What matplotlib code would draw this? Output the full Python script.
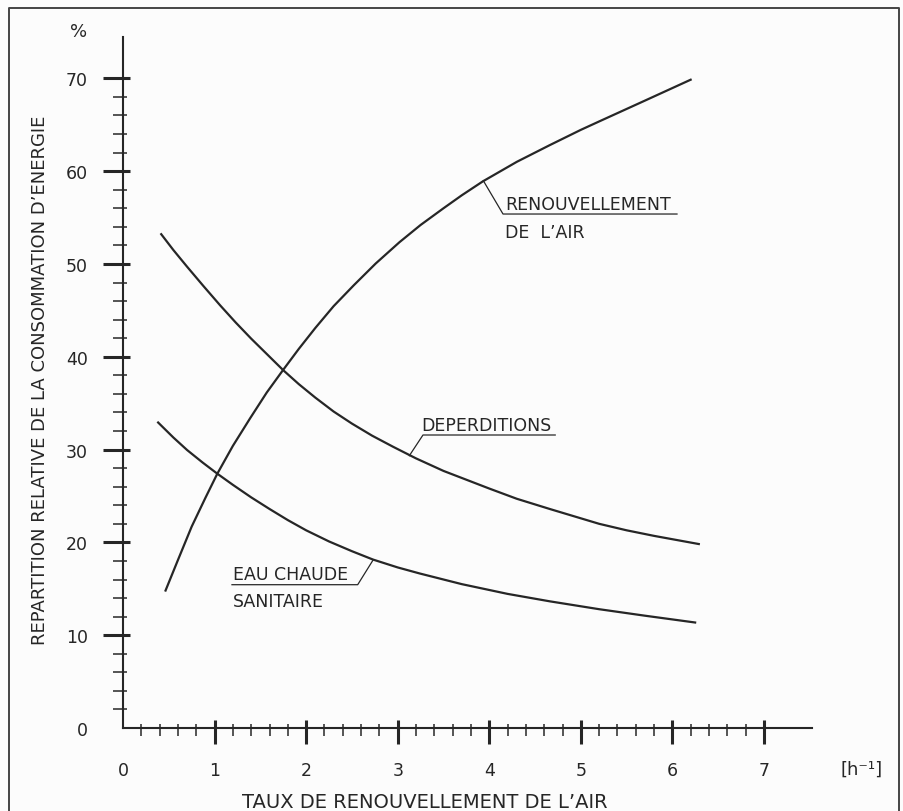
import matplotlib
matplotlib.use('Agg')
import matplotlib.pyplot as plt
from matplotlib.ticker import FixedLocator, NullFormatter
from matplotlib.lines import Line2D

# ---------------- data ----------------
renouv_x = [0.46, 0.60, 0.75, 0.90, 1.03, 1.20, 1.39, 1.57, 1.75, 1.92, 2.10, 2.30, 2.52,
            2.76, 3.02, 3.25, 3.50, 3.70, 3.93, 4.30, 4.66, 5.00, 5.21, 5.70, 6.21]
renouv_y = [14.7, 18.1, 21.7, 24.8, 27.4, 30.4, 33.4, 36.15, 38.6, 40.85, 43.1, 45.45, 47.7,
            50.05, 52.35, 54.2, 56.0, 57.4, 58.9, 61.0, 62.8, 64.45, 65.4, 67.6, 69.9]

deperd_x = [0.41, 0.55, 0.70, 0.88, 1.06, 1.23, 1.40, 1.57, 1.75, 1.92, 2.10, 2.30, 2.50,
            2.72, 2.95, 3.20, 3.50, 4.00, 4.30, 4.66, 5.20, 5.50, 5.80, 6.30]
deperd_y = [53.3, 51.5, 49.7, 47.6, 45.55, 43.7, 41.95, 40.3, 38.55, 37.05, 35.6, 34.1, 32.8,
            31.5, 30.3, 29.05, 27.7, 25.8, 24.7, 23.6, 22.0, 21.3, 20.7, 19.8]

eau_x = [0.375, 0.55, 0.70, 0.87, 1.03, 1.20, 1.40, 1.60, 1.80, 2.00, 2.25, 2.50, 2.73,
         3.00, 3.24, 3.70, 4.20, 4.66, 5.20, 5.70, 6.26]
eau_y = [33.0, 31.3, 29.95, 28.6, 27.4, 26.2, 24.85, 23.6, 22.4, 21.3, 20.1, 19.05, 18.15,
         17.3, 16.65, 15.5, 14.45, 13.65, 12.8, 12.1, 11.35]

x_major = [0, 1, 2, 3, 4, 5, 6, 7]
x_labels = ['0', '1', '2', '3', '4', '5', '6', '7']
y_major = [0, 10, 20, 30, 40, 50, 60, 70]
y_labels = ['0', '10', '20', '30', '40', '50', '60', '70']

xlabel = "TAUX DE RENOUVELLEMENT DE L\u2019AIR"
ylabel = "REPARTITION RELATIVE DE LA CONSOMMATION D\u2019ENERGIE"

# ---------------- layout ----------------
W, H = 904, 812
INK = '#262626'
BG = '#fcfcfc'
PT = 0.72  # points per pixel at dpi 100

fig = plt.figure(figsize=(W / 100, H / 100), dpi=100)
fig.patch.set_facecolor(BG)

px0, px1 = 123, 812   # x axis from data 0 to end (pixels)
py0, py1 = 729, 38    # y axis from data 0 to top (pixels)
XPX, YPX = 91.57, 9.281
rect = [px0 / W, (H - py0) / H, (px1 - px0) / W, (py0 - py1) / H]
XMAX = (px1 - px0) / XPX
YMAX = (py0 - py1) / YPX

ax = fig.add_axes(rect)
ax2 = fig.add_axes(rect, sharex=ax, sharey=ax)
ax.set_xlim(0, XMAX)
ax.set_ylim(0, YMAX)

x_minor = [round(0.2 * i, 1) for i in range(1, 35) if i % 5 != 0]
y_minor = [2 * i for i in range(1, 35) if i % 5 != 0]

for a in (ax, ax2):
    a.patch.set_visible(False)
    a.spines['top'].set_visible(False)
    a.spines['right'].set_visible(False)

ax.spines['left'].set_linewidth(1.5)
ax.spines['bottom'].set_linewidth(1.5)
ax.spines['left'].set_color(INK)
ax.spines['bottom'].set_color(INK)
ax2.spines['left'].set_visible(False)
ax2.spines['bottom'].set_visible(False)

ax.xaxis.set_major_locator(FixedLocator(x_major))
ax.yaxis.set_major_locator(FixedLocator(y_major))
ax.xaxis.set_minor_locator(FixedLocator(x_minor))
ax.yaxis.set_minor_locator(FixedLocator(y_minor))
ax.set_xticklabels(x_labels)
ax.set_yticklabels(y_labels)
ax.xaxis.set_minor_formatter(NullFormatter())
ax.yaxis.set_minor_formatter(NullFormatter())

# outward part of ticks
ax.tick_params(axis='y', which='major', direction='out', length=20 * PT, width=2.2,
               color=INK, labelsize=12.5, labelcolor=INK, pad=11)
ax.tick_params(axis='y', which='minor', direction='out', length=10 * PT, width=1.1, color=INK)
ax.tick_params(axis='x', which='major', direction='out', length=16 * PT, width=2.2,
               color=INK, labelsize=12.5, labelcolor=INK, pad=12)
ax.tick_params(axis='x', which='minor', direction='out', length=8 * PT, width=1.1, color=INK)
# inward part of ticks
ax2.tick_params(axis='y', which='major', direction='in', length=7 * PT, width=2.2,
                color=INK, labelleft=False)
ax2.tick_params(axis='y', which='minor', direction='in', length=4 * PT, width=1.1, color=INK)
ax2.tick_params(axis='x', which='major', direction='in', length=8 * PT, width=2.2,
                color=INK, labelbottom=False)
ax2.tick_params(axis='x', which='minor', direction='in', length=4 * PT, width=1.1, color=INK)

# no tick marks at the origin corner
for a in (ax, ax2):
    a.xaxis.get_major_ticks(len(x_major))[0].tick1line.set_visible(False)
    a.yaxis.get_major_ticks(len(y_major))[0].tick1line.set_visible(False)

# ---------------- curves ----------------
lw = 1.6
for xs, ys in ((renouv_x, renouv_y), (deperd_x, deperd_y), (eau_x, eau_y)):
    ax.plot(xs, ys, color=INK, lw=lw, solid_capstyle='butt', solid_joinstyle='round')

# ---------------- labels with leader lines ----------------
fs = 12.5
llw = 0.9
# RENOUVELLEMENT DE L'AIR
ax.plot([3.935, 4.15, 6.05], [58.97, 55.38, 55.38], color=INK, lw=llw)
ax.text(4.17, 56.5, "RENOUVELLEMENT", fontsize=fs, color=INK, ha='left', va='center')
ax.text(4.17, 53.45, "DE  L\u2019AIR", fontsize=fs, color=INK, ha='left', va='center')
# DEPERDITIONS
ax.plot([3.127, 3.276, 4.72], [29.34, 31.57, 31.57], color=INK, lw=llw)
ax.text(3.26, 32.7, "DEPERDITIONS", fontsize=fs, color=INK, ha='left', va='center')
# EAU CHAUDE SANITAIRE
ax.plot([1.19, 2.563, 2.733], [15.44, 15.44, 18.13], color=INK, lw=llw)
ax.text(1.198, 16.6, "EAU CHAUDE", fontsize=fs, color=INK, ha='left', va='center')
ax.text(1.198, 13.7, "SANITAIRE", fontsize=fs, color=INK, ha='left', va='center')

# ---------------- axis titles ----------------
ax.set_xlabel(xlabel, fontsize=14, color=INK)
ax.xaxis.label.set_va('center')
ax.xaxis.set_label_coords((425 - px0) / (px1 - px0), (py0 - 803) / (py0 - py1))
ax.set_ylabel(ylabel, fontsize=13, color=INK)
ax.yaxis.label.set_va('center')
ax.yaxis.set_label_coords((40 - px0) / (px1 - px0), (py0 - 380) / (py0 - py1))

ax.text((79 - px0) / (px1 - px0), (py0 - 32) / (py0 - py1), "%", transform=ax.transAxes,
        fontsize=13, color=INK, ha='center', va='center')
ax.text((862 - px0) / (px1 - px0), (py0 - 770) / (py0 - py1), "[h\u207b\u00b9]",
        transform=ax.transAxes, fontsize=13, color=INK, ha='center', va='center')

# ---------------- frame around the figure ----------------
fx0, fx1, fy0 = 9 / W, 899 / W, 1 - 9 / H
fig.add_artist(Line2D([fx0, fx0, fx1, fx1], [-0.01, fy0, fy0, -0.01],
                      transform=fig.transFigure, color='#444444', lw=1.4))

fig.savefig('out.png', dpi=100, facecolor=BG)
